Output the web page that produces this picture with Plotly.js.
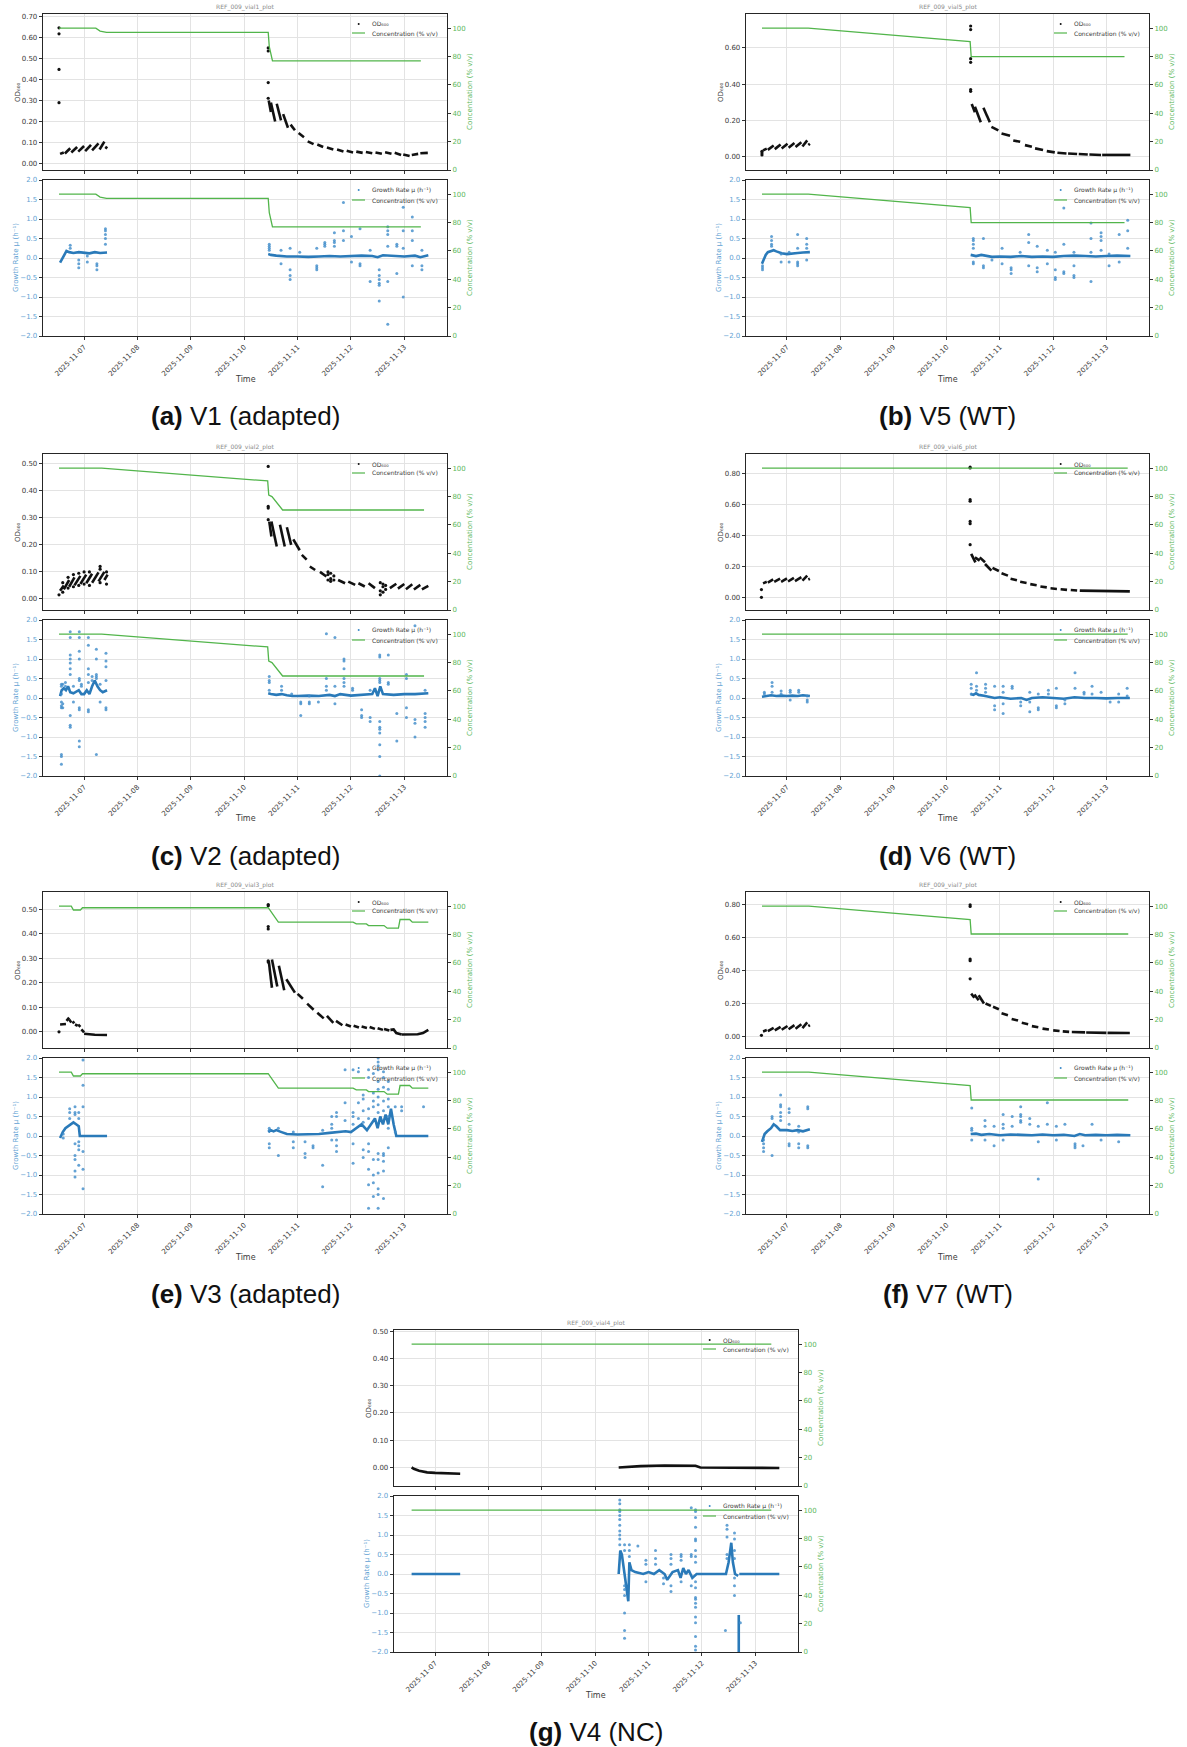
<!DOCTYPE html>
<html><head><meta charset="utf-8">
<script src="https://cdn.plot.ly/plotly-3.0.1.min.js"></script>
<style>html,body{margin:0;padding:0;background:#fff;}#chart{width:1187px;height:1747px;}</style>
</head><body><div id="chart"></div>
<script>
// ---------- shared axis labels ----------
const dayTicks = [7, 8, 9, 10, 11, 12, 13];
const dayLabels = ['2025-11-07','2025-11-08','2025-11-09','2025-11-10','2025-11-11','2025-11-12','2025-11-13'];
const concTicks = [0, 20, 40, 60, 80, 100];
const muTicks = [-2, -1.5, -1, -0.5, 0, 0.5, 1, 1.5, 2];

// ---------- V1 (adapted) ----------
const v1_odDash = [[6.55,.045,6.62,.052],[6.64,.047,6.74,.072],[6.76,.052,6.87,.078],[6.89,.056,7.00,.083],[7.02,.058,7.13,.088],[7.15,.062,7.27,.095],[7.29,.066,7.38,.104],[7.40,.07,7.43,.08],
 [10.46,.30,10.50,.245],[10.50,.29,10.58,.20],[10.61,.285,10.69,.205],[10.73,.235,10.82,.17],[10.87,.185,10.95,.158],[11.02,.145,11.12,.125],[11.19,.105,11.30,.092],[11.37,.09,11.48,.078],[11.55,.075,11.67,.066],[11.74,.066,11.86,.057],[11.92,.06,12.04,.052],[12.10,.056,12.22,.05],[12.28,.054,12.40,.048],[12.46,.052,12.58,.046],[12.64,.053,12.76,.046],[12.82,.05,12.94,.04],[12.98,.042,13.10,.035],[13.14,.04,13.26,.045],[13.30,.048,13.44,.05]];
const v1_odPts = [[6.53,[.648,.619,.449,.29]],[10.45,[.552,.537,.386,.311]]];
const v1_conc = [6.53,100, 7.22,100, 7.30,98, 7.42,97, 10.45,97, 10.47,87, 10.53,77, 13.31,77];
const v1_muLine = [[6.55,-.12,6.58,-.05,6.61,.05,6.64,.12,6.67,.18,6.72,.15,6.8,.13,6.9,.15,7.0,.14,7.1,.12,7.2,.15,7.3,.13,7.43,.14],
 [10.45,.1,10.5,.08,10.6,.06,10.7,.05,10.8,.04,11.0,.04,11.2,.03,11.4,.04,11.6,.05,11.8,.04,12.0,.05,12.2,.06,12.4,.05,12.5,.02,12.6,.07,12.8,.05,13.0,.04,13.2,.06,13.3,.02,13.45,.07]];
const v1_muPts = [[6.74,[.33,.25]],[6.9,[-.25,-.15,-.05]],[7.06,[-.1,.05]],[7.24,[-.3,-.2,-.15]],[7.4,[.75,.7,.6,.5,.35]],[10.47,[.35,.3,.25,.2]],[10.69,[.2,-.15]],[10.86,[.25,-.3,-.45,-.55]],[11.04,[.15]],[11.36,[.25,-.2,-.25,-.3]],[11.51,[.4,.3,.35]],[11.69,[.65,.45,.4,.3]],[11.86,[1.42,.7,.45]],[12.01,[.55,-.1]],[12.17,[.75,-.2,-.15]],[12.36,[-.6,.2]],[12.53,[-.3,-.45,-.55,-.65,-.7,-1.1]],[12.69,[.8,.7,.6,-.6,-1.7,.3]],[12.86,[-.4,.35,.3]],[12.98,[1.3,.7,-1.0,.25]],[13.15,[1.05,.7,.45,-.2]],[13.33,[.2,-.2,-.3]]];

// ---------- V5 (WT) ----------
const v5_odDash = [[6.55,.035,6.62,.045],[6.64,.038,6.75,.062],[6.77,.042,6.88,.068],[6.90,.046,7.01,.072],[7.03,.05,7.14,.076],[7.16,.053,7.27,.08],[7.29,.056,7.38,.09],[7.40,.065,7.43,.072],
 [10.47,.29,10.53,.245],[10.53,.275,10.64,.19],[10.69,.27,10.81,.19],[10.84,.165,10.97,.145],[11.03,.128,11.19,.115],[11.25,.09,11.38,.082],[11.47,.064,11.6,.055],[11.66,.046,11.81,.037],[11.88,.031,12.03,.024],[12.08,.022,12.25,.018],[12.28,.018,12.45,.015],[12.48,.015,12.65,.012],[12.68,.012,12.9,.01],[12.92,.01,13.45,.01]];
const v5_odPts = [[6.53,[.01,.02,.03]],[10.45,[.72,.70,.54,.52,.37,.36]]];
const v5_conc = [6.53,100, 7.40,100, 10.44,90.5, 10.46,80, 13.34,80];
const v5_muLine = [[6.53,-.15,6.56,-.05,6.6,.08,6.64,.15,6.7,.18,6.75,.2,6.8,.17,6.9,.12,7.0,.1,7.1,.12,7.2,.13,7.3,.14,7.43,.15],
 [10.45,.08,10.55,.05,10.65,.08,10.75,.05,10.85,.03,11.0,.04,11.2,.03,11.4,.05,11.6,.03,11.8,.04,12.0,.03,12.2,.05,12.4,.06,12.6,.05,12.8,.04,13.0,.05,13.2,.06,13.45,.05]];
const v5_muPts = [[6.54,[-.3,-.25,-.2]],[6.71,[.55,.45,.35,.3]],[6.89,[-.1,.1]],[7.04,[-.1,.15]],[7.2,[.6,.25,-.2,-.15,-.1]],[7.37,[.5,.35,.25,-.05]],[10.5,[.5,.45,.35,.25,-.15,-.1]],[10.69,[.5,-.25,-.2]],[10.85,[-.05]],[11.04,[.25,-.15]],[11.21,[-.4,-.3,-.25]],[11.38,[.15]],[11.54,[.6,.4,-.2]],[11.7,[.3,-.25,-.35]],[11.89,[.2,-.15]],[12.04,[-.5,-.55,-.3,.15]],[12.2,[1.28,.35,-.35,-.4]],[12.39,[-.45,-.5,-.2,.15]],[12.71,[.9,.5,-.6,.15]],[12.9,[.65,.55,.45,.2]],[13.05,[-.2,.1]],[13.24,[.6,-.1]],[13.4,[.97,.7,.25]]];

// ---------- V2 (adapted) ----------
const v2_odDash = [[6.55,.03,6.62,.05],[6.62,.035,6.72,.07],[6.72,.045,6.82,.08],[6.82,.05,6.93,.085],[6.93,.055,7.04,.09],[7.04,.058,7.15,.093],[7.15,.06,7.27,.098],[7.27,.065,7.38,.1],[7.38,.07,7.44,.09],
 [10.47,.286,10.51,.231],[10.51,.286,10.61,.194],[10.67,.274,10.76,.194],[10.80,.265,10.88,.2],[10.92,.22,11.04,.18],[11.08,.163,11.17,.145],[11.23,.12,11.33,.107],[11.42,.1,11.54,.083],[11.76,.07,11.89,.058],[11.95,.064,12.08,.052],[12.14,.058,12.26,.046],[12.33,.058,12.45,.04],[12.73,.04,12.85,.056],[12.88,.038,13.0,.055],[13.03,.036,13.15,.054],[13.18,.035,13.3,.052],[13.33,.035,13.45,.048]];
const v2_odPts = [[6.53,[.015]],[6.6,[.06,.025]],[6.7,[.08,.04]],[6.8,[.09,.045]],[6.9,[.095,.05]],[7.0,[.1,.055]],[7.1,[.1,.05]],[7.3,[.12,.11,.06]],[7.42,[.1,.055]],[10.45,[.49,.342,.336,.293]],[11.57,[.1,.09,.07]],[11.62,[.095,.075,.065]],[11.68,[.085,.07]],[12.55,[.06,.03,.015]],[12.6,[.055,.045,.025]],[12.65,[.05,.035]]];
const v2_conc = [6.53,100, 7.33,100, 10.44,91, 10.46,81, 10.52,80, 10.72,70.5, 13.37,70.5];
const v2_muLine = [[6.55,.05,6.58,.2,6.62,.25,6.66,.2,6.7,.3,6.74,.15,6.8,.12,6.85,.15,6.9,.2,6.95,.1,7.0,.1,7.05,.2,7.1,.1,7.15,.3,7.2,.45,7.25,.3,7.3,.2,7.35,.15,7.43,.2],
 [10.45,.12,10.5,.1,10.6,.08,10.7,.1,10.8,.07,10.9,.05,11.0,.05,11.2,.06,11.4,.05,11.6,.08,11.7,.05,11.8,.1,12.0,.06,12.2,.08,12.4,.1,12.45,.25,12.5,.05,12.55,.3,12.6,.1,12.8,.08,13.0,.1,13.2,.1,13.45,.12]];
const v2_muPts = [[6.575,[.35,.3,.1,-.1,-.2,-.25,-1.45,-1.5,-1.7]],[6.6,[.35,-.25,-.15]],[6.65,[.3,.4]],[6.74,[1.7,1.55,1.1,1.0,.9,.75,.6,-.45,-.7,-.75]],[6.8,[.3,-.1]],[6.91,[1.7,1.55,1.2,1.0,.5,.45,-.25,-.3,-1.1,-1.25]],[6.95,[.3,.35]],[7.08,[1.55,1.35,.75,.6,.4,-.3,-.35]],[7.15,[.55,.45]],[7.23,[1.25,1.0,.6,.55,.5,-1.45]],[7.3,[.35,-.1]],[7.41,[1.15,.95,.8,.45,-.25,-.3]],[10.47,[.55,.45,.4,.2]],[10.7,[.3,.2]],[10.89,[.1]],[11.06,[-.45,-.15,-.1]],[11.22,[.05,-.1,-.15]],[11.39,[-.1]],[11.54,[1.65,.5,.3,.2]],[11.7,[1.55,.3,-.15]],[11.87,[1.0,.95,.75,.5,.4,.3]],[12.03,[.25,.2]],[12.2,[-.3,-.45,-.5]],[12.36,[.2,-.5,-.6]],[12.54,[1.1,1.05,.5,.45,.4,-.6,-.75,-.8,-.9,-1.2,-1.5,-2.0]],[12.7,[1.1,.4,.35]],[12.86,[-.4,-1.1]],[13.04,[.6,.5,-.25,-.5]],[13.2,[-.55,-1.0,-.65,1.85]],[13.39,[-.4,-.5,-.6,-.75,.2]]];

// ---------- V6 (WT) ----------
const v6_odDash = [[6.55,.09,6.62,.1],[6.64,.095,6.74,.115],[6.76,.1,6.87,.12],[6.89,.1,7.0,.122],[7.02,.102,7.13,.125],[7.15,.105,7.27,.13],[7.29,.108,7.38,.14],[7.40,.115,7.43,.12],
 [10.46,.28,10.54,.226],[10.53,.258,10.62,.237],[10.62,.258,10.72,.226],[10.72,.215,10.84,.172],[10.86,.19,10.98,.17],[11.03,.155,11.15,.14],[11.2,.12,11.32,.11],[11.38,.1,11.5,.092],[11.57,.085,11.69,.078],[11.76,.07,11.88,.064],[11.95,.058,12.07,.054],[12.14,.052,12.26,.048],[12.33,.047,12.45,.044],[12.5,.043,12.9,.04,13.44,.038]];
const v6_odPts = [[6.52,[0,.05]],[10.44,[.84,.835,.63,.62,.49,.475,.34]]];
const v6_conc = [6.53,100, 13.4,100];
const v6_muLine = [[6.53,.03,6.6,.05,6.7,.07,6.8,.05,6.9,.06,7.0,.05,7.1,.06,7.2,.05,7.3,.07,7.43,.05],
 [10.45,.1,10.5,.08,10.55,.12,10.6,.08,10.7,.06,10.8,.03,10.9,0,11.0,.02,11.2,-.02,11.4,0,11.5,-.05,11.6,0,11.8,.02,12.0,0,12.2,-.02,12.4,.02,12.6,0,12.8,0,13.0,-.01,13.2,0,13.44,0]];
const v6_muPts = [[6.575,[.15,.1]],[6.72,[.4,.3,.15]],[6.89,[.18,.1]],[7.06,[.2,.15,-.05]],[7.22,[.2,.15]],[7.38,[-.1,-.05,.05]],[10.46,[.35,.25,.1]],[10.56,[.65,.3,.2]],[10.73,[.35,.25,.15]],[10.9,[-.2,-.3,.3]],[11.06,[-.4,.3,.15,-.15]],[11.23,[.3,.25]],[11.39,[-.2,-.1]],[11.56,[.15,-.35,-.1]],[11.72,[-.3,-.25,.1]],[11.91,[.2,.1]],[12.06,[.25,-.2,-.25]],[12.22,[-.05,-.15]],[12.41,[.65,.25]],[12.58,[.15,.1]],[12.73,[.3,.1]],[12.9,[.15]],[13.07,[-.1]],[13.23,[.1,-.1]],[13.39,[.25,.05]]];

// ---------- V3 (adapted) ----------
const v3_odDash = [[6.55,.03,6.66,.032],[6.67,.045,6.72,.058],[6.72,.05,6.76,.038],[6.78,.035,6.82,.042],[6.83,.03,6.88,.025],[6.89,.03,6.93,.02],[6.95,.01,7.0,-.002],[7.0,-.008,7.2,-.012,7.43,-.013],
 [10.46,.29,10.52,.18],[10.52,.295,10.62,.185],[10.65,.27,10.75,.17],[10.79,.215,10.95,.16],[11.0,.155,11.1,.135],[11.18,.115,11.3,.09],[11.37,.078,11.49,.055],[11.55,.065,11.67,.037],[11.72,.045,11.84,.027],[11.9,.03,12.0,.022],[12.05,.025,12.15,.018],[12.2,.022,12.3,.016],[12.35,.02,12.45,.012],[12.5,.015,12.6,.008],[12.62,.012,12.72,.005],[12.74,.008,12.8,.01,12.85,-.005,12.95,-.011],[12.95,-.011,13.25,-.01,13.35,-.005,13.45,.008]];
const v3_odPts = [[6.53,[0]],[10.45,[.52,.515,.43,.42,.29,.285]]];
const v3_conc = [6.53,100, 6.76,100, 6.8,97.3, 6.93,97.3, 6.97,98.9, 10.45,98.9, 10.64,88.7, 12.04,88.7, 12.1,87.5, 12.29,87.5, 12.33,86.3, 12.62,86.3, 12.68,84.5, 12.89,84.5, 12.92,90.6, 13.1,90.6, 13.15,88.7, 13.45,88.7];
const v3_muLine = [[6.55,-.05,6.6,.1,6.65,.2,6.7,.25,6.75,.3,6.8,.35,6.85,.3,6.9,.25,6.92,0,7.43,0],
 [10.45,.1,10.5,.15,10.55,.12,10.6,.15,10.7,.1,10.8,.05,11.0,.04,11.2,.05,11.4,.05,11.6,.08,11.8,.1,11.9,.12,12.0,.1,12.1,.2,12.2,.3,12.3,.15,12.4,.35,12.45,.45,12.5,.2,12.55,.5,12.6,.3,12.65,.55,12.7,.3,12.75,.7,12.8,.3,12.85,0,13.45,0]];
const v3_muPts = [[6.61,[.05,-.05]],[6.73,[.7,.6,.45]],[6.83,[.75,.6,.55,-.2,-.5,-.6,-.9,-1.05]],[6.9,[.6,.45,-.15,-.25,-.35,-.75]],[6.98,[1.95,1.3,.75,-.4,-.85,-1.35]],[10.47,[.2,.15,-.2,-.3]],[10.64,[-.5,.2]],[10.92,[-.15,-.3,.1]],[11.14,[-.45,-.55,-.15]],[11.29,[-.25,-.3]],[11.47,[-.75,-1.3,.15]],[11.64,[.5,.3,.2,-.1]],[11.73,[-.1,-.25,-.4,.6,.5]],[11.89,[1.7,.85,.4]],[12.04,[-.7,-.2,.3,.5,.6,1.7]],[12.14,[1.65,.85,.45]],[12.23,[1.05,.95,.65,.35,-.35,-.55]],[12.33,[-1.25,-1.85,1.7,1.5,.7,.45,-.2,-.4,-.85]],[12.42,[1.6,1.1,.9,.75,-.6,-1.0,-1.2,-1.55]],[12.51,[2.0,1.9,1.8,1.7,1.4,1.2,1.0,.8,.6,-.45,-.6,-.95,-1.35,-1.5,-1.85]],[12.61,[1.65,1.5,1.25,.9,.65,-.45,-.5,-.65,-.9,-1.6]],[12.7,[1.4,1.2,.95,.75,.5,.2,-.3]],[12.83,[.75,.1]],[12.95,[.75,.65]],[13.36,[.75]]];

// ---------- V7 (WT) ----------
const v7_odDash = [[6.55,.03,6.62,.038],[6.64,.032,6.75,.052],[6.77,.036,6.88,.058],[6.9,.04,7.01,.063],[7.03,.043,7.14,.068],[7.16,.046,7.27,.074],[7.29,.05,7.38,.085],[7.4,.062,7.43,.068],
 [10.46,.26,10.52,.235],[10.52,.255,10.6,.22],[10.6,.25,10.7,.2],[10.73,.2,10.83,.185],[10.87,.18,10.98,.165],[11.03,.14,11.15,.128],[11.22,.106,11.34,.096],[11.41,.082,11.53,.074],[11.6,.062,11.72,.055],[11.8,.047,11.92,.041],[12.0,.036,12.12,.032],[12.18,.03,12.3,.027],[12.35,.026,12.6,.024],[12.62,.023,13.0,.021],[13.02,.021,13.44,.02]];
const v7_odPts = [[6.52,[.006]],[10.44,[.8,.79,.47,.46,.35]]];
const v7_conc = [6.53,100, 7.41,100, 10.44,90.6, 10.46,80.4, 13.41,80.4];
const v7_muLine = [[6.53,-.15,6.58,.05,6.63,.12,6.7,.2,6.75,.3,6.8,.25,6.87,.15,7.0,.15,7.1,.13,7.2,.15,7.3,.12,7.43,.17],
 [10.45,.05,10.55,.06,10.65,.03,10.8,.05,11.0,.02,11.2,.04,11.4,.03,11.6,.02,11.8,.04,12.0,.02,12.2,.03,12.4,0,12.5,.05,12.6,.02,12.8,.03,13.0,.02,13.2,.03,13.45,.02]];
const v7_muPts = [[6.56,[-.4,-.3,-.2,-.1]],[6.72,[-.5,.5,.45]],[6.88,[1.05,.8,.75,.6,.5,.4]],[7.04,[.7,.6,.3,-.25,-.2]],[7.22,[.25,-.3,-.2,.1]],[7.39,[.75,.7,-.3,-.25]],[10.47,[.72,.2,.15,-.1]],[10.72,[.4,.25,-.1]],[10.89,[-.25,.25]],[11.06,[.55,.3,.2,-.1]],[11.23,[.5,.25]],[11.39,[.75,.55,.5,.4,.35]],[11.56,[.45,.3]],[11.72,[.25,-.15,-1.1]],[11.89,[.85,.3]],[12.06,[.25,-.1]],[12.22,[.3]],[12.41,[-.2,-.25,-.3]],[12.56,[-.25]],[12.73,[.3]],[12.9,[-.1]],[13.23,[-.15]]];

// ---------- V4 (NC) ----------
const v4_odDash = [[6.56,0,6.6,-.005,6.7,-.012,6.85,-.018,7.0,-.02,7.2,-.022,7.47,-.023],[10.44,0,10.55,.002,10.85,.005,11.3,.007,11.8,.008,11.88,.006,11.97,0,12.4,-.001,12.5,.001,12.75,0,13.45,-.002]];
const v4_odPts = [];
const v4_conc = [6.56,100, 13.3,100];
const v4_muLine = [[6.56,0,7.47,0],
 [10.44,0,10.45,.3,10.47,.6,10.5,.5,10.53,.2,10.56,-.1,10.6,-.6,10.62,-.7,10.64,.3,10.68,.1,10.75,.05,10.9,0,11.0,.05,11.1,0,11.2,.1,11.3,0,11.35,-.15,11.45,.05,11.55,.1,11.6,-.1,11.65,.15,11.7,0,11.75,.1,11.82,-.1,11.9,0,12.45,0,12.5,.3,12.55,.8,12.58,.3,12.62,0,12.68,-.05],
 [12.69,-1.05,12.69,-2.1],[12.7,0,13.45,0]];
const v4_muPts = [[10.46,[1.9,1.8,1.65,1.6,1.5,1.4,1.25,1.1,1.0,.9,.75]],[10.55,[.75,.6,-.3,-.4,-.55,-1.0,-1.45,-1.65]],[10.64,[.75,.6,.45]],[10.8,[.72]],[10.95,[.35,.25,-.2]],[11.13,[.6,.4,.25]],[11.28,[-.1,-.25]],[11.42,[.5,.4,.25,-.3,-.45]],[11.61,[.5,.45,.35,-.2]],[11.8,[1.7,.5,.45,-.3]],[11.88,[1.65,1.6,1.45,1.2,.9,.85,.6,.45,.3,-.2,-.35,-.6,-.65,-.75,-.85,-1.1,-1.25,-1.6,-1.85,-1.95]],[12.44,[-1.45]],[12.47,[1.25,1.15,.95,.5,.4]],[12.61,[1.05,.9,.6,.4,-.1,-.3,-.55]],[12.72,[-1.25]]];

// ---------- figure config (layout only) ----------
const W = 1187, H = 1747;
const COLS = {L:[43,447], R:[746,1149], C:[394,798]};
const ROWS = [14, 454, 892, 1330];
const subs = [
 {tag:'a', cap:'V1 (adapted)', vial:'REF_009_vial1_plot', col:'L', row:0, odR:[-0.032,0.714], odT:[0,.1,.2,.3,.4,.5,.6,.7], od:v1_odDash, odP:v1_odPts, conc:v1_conc, mu:v1_muLine, muP:v1_muPts},
 {tag:'b', cap:'V5 (WT)', vial:'REF_009_vial5_plot', col:'R', row:0, odR:[-0.073,0.786], odT:[0,.2,.4,.6], od:v5_odDash, odP:v5_odPts, conc:v5_conc, mu:v5_muLine, muP:v5_muPts},
 {tag:'c', cap:'V2 (adapted)', vial:'REF_009_vial2_plot', col:'L', row:1, odR:[-0.041,0.536], odT:[0,.1,.2,.3,.4,.5], od:v2_odDash, odP:v2_odPts, conc:v2_conc, mu:v2_muLine, muP:v2_muPts},
 {tag:'d', cap:'V6 (WT)', vial:'REF_009_vial6_plot', col:'R', row:1, odR:[-0.082,0.925], odT:[0,.2,.4,.6,.8], od:v6_odDash, odP:v6_odPts, conc:v6_conc, mu:v6_muLine, muP:v6_muPts},
 {tag:'e', cap:'V3 (adapted)', vial:'REF_009_vial3_plot', col:'L', row:2, odR:[-0.066,0.571], odT:[0,.1,.2,.3,.4,.5], od:v3_odDash, odP:v3_odPts, conc:v3_conc, mu:v3_muLine, muP:v3_muPts},
 {tag:'f', cap:'V7 (WT)', vial:'REF_009_vial7_plot', col:'R', row:2, odR:[-0.071,0.878], odT:[0,.2,.4,.6,.8], od:v7_odDash, odP:v7_odPts, conc:v7_conc, mu:v7_muLine, muP:v7_muPts},
 {tag:'g', cap:'V4 (NC)', vial:'REF_009_vial4_plot', col:'C', row:3, odR:[-0.068,0.504], odT:[0,.1,.2,.3,.4,.5], od:v4_odDash, odP:v4_odPts, conc:v4_conc, mu:v4_muLine, muP:v4_muPts}
];
const OD_LABEL = 'OD₆₀₀';
const MU_LABEL = 'Growth Rate μ (h⁻¹)';
const CONC_LABEL = 'Concentration (% v/v)';

// ---------- helpers ----------
function segLines(segs){const x=[],y=[];segs.forEach(s=>{for(let k=0;k<s.length;k+=2){x.push(s[k]);y.push(s[k+1]);}x.push(null);y.push(null);});return {x,y};}
function groupPts(g){const x=[],y=[];g.forEach(([t,vs])=>vs.forEach(v=>{x.push(t);y.push(v);}));return {x,y};}
function pairs(a){const x=[],y=[];for(let k=0;k<a.length;k+=2){x.push(a[k]);y.push(a[k+1]);}return {x,y};}
const px = v => v / W, py = v => 1 - v / H;
const ax = (p, n) => p + (n === 1 ? '' : n);

const FONT = 'DejaVu Sans, Verdana, sans-serif';
const GREEN = '#52b54b', BLUE = '#2a7ab9', BLUE_TXT = '#5f9fd3', GREEN_TXT = '#5cb85c', INK = '#3a3a3a';
const XR = [6.23, 13.8];

const traces = [], layout = {
 width: W, height: H, margin:{l:0,r:0,t:0,b:0}, showlegend:false, autosize:false,
 paper_bgcolor:'#fff', plot_bgcolor:'rgba(0,0,0,0)', annotations:[], shapes:[], font:{family:FONT, color:INK, size:7}
};

function addPanel(p, top, bot, L, R, s, isTop){
 const xn = p + 1, yl = 2*p + 1, yr = 2*p + 2;
 const xa = ax('x', xn), yla = ax('y', yl), yra = ax('y', yr);
 layout[ax('xaxis', xn)] = {
  domain:[px(L), px(R)], range:XR, anchor:yla, tickvals:dayTicks, ticktext:dayLabels,
  showticklabels:!isTop, tickangle:-45, tickfont:{family:FONT, size:7, color:INK},
  ticks:'outside', ticklen:3, tickcolor:'#333', showgrid:true, gridcolor:'#e3e3e3', gridwidth:1,
  showline:true, mirror:true, linecolor:'#262626', linewidth:1.3, zeroline:false, automargin:false
 };
 layout[ax('yaxis', yl)] = {
  domain:[py(bot), py(top)], anchor:xa, range: isTop ? s.odR : [-2, 2],
  tickvals: isTop ? s.odT : muTicks, tickformat: isTop ? '.2f' : '.1f',
  tickfont:{family:FONT, size:7, color: isTop ? INK : BLUE_TXT},
  ticks:'outside', ticklen:3, tickcolor:'#333', showgrid:true, gridcolor:'#e3e3e3', gridwidth:1,
  showline:true, mirror:true, linecolor:'#262626', linewidth:1.3, zeroline:false, automargin:false
 };
 layout[ax('yaxis', yr)] = {
  overlaying:yla, side:'right', anchor:xa, range:[0,110], tickvals:concTicks,
  tickfont:{family:FONT, size:7, color:GREEN_TXT}, ticks:'outside', ticklen:3, tickcolor:'#333',
  showgrid:false, zeroline:false, showline:false, automargin:false
 };
 if (isTop){
  const d = segLines(s.od), q = groupPts(s.odP);
  traces.push({type:'scatter', mode:'lines', x:d.x, y:d.y, xaxis:xa, yaxis:yla, line:{color:'#111', width:2.6}, connectgaps:false, hoverinfo:'skip'});
  traces.push({type:'scatter', mode:'markers', x:q.x, y:q.y, xaxis:xa, yaxis:yla, marker:{color:'#111', size:3.2}, hoverinfo:'skip'});
 } else {
  const d = segLines(s.mu), q = groupPts(s.muP);
  traces.push({type:'scatter', mode:'lines', x:d.x, y:d.y, xaxis:xa, yaxis:yla, line:{color:BLUE, width:2.6}, connectgaps:false, hoverinfo:'skip'});
  traces.push({type:'scatter', mode:'markers', x:q.x, y:q.y, xaxis:xa, yaxis:yla, marker:{color:'#3d8bc9', size:3, opacity:0.8}, hoverinfo:'skip'});
 }
 const c = pairs(s.conc);
 traces.push({type:'scatter', mode:'lines', x:c.x, y:c.y, xaxis:xa, yaxis:yra, line:{color:GREEN, width:1.3}, hoverinfo:'skip'});

 // axis titles
 const midY = (top + bot) / 2;
 layout.annotations.push({xref:'paper', yref:'paper', x:px(L - (isTop ? 25 : 27)), y:py(midY), text: isTop ? OD_LABEL : MU_LABEL,
  textangle:-90, showarrow:false, xanchor:'center', yanchor:'middle', font:{family:FONT, size:7, color: isTop ? INK : BLUE_TXT}});
 layout.annotations.push({xref:'paper', yref:'paper', x:px(R + 23), y:py(midY), text:CONC_LABEL,
  textangle:-90, showarrow:false, xanchor:'center', yanchor:'middle', font:{family:FONT, size:7, color:GREEN_TXT}});

 // legend
 const r1 = top + 10, r2 = top + (isTop ? 19 : 20);
 layout.annotations.push({xref:'paper', yref:'paper', x:px(R - 77), y:py(r1), text: isTop ? OD_LABEL : MU_LABEL,
  showarrow:false, xanchor:'left', yanchor:'middle', font:{family:FONT, size:6, color:INK}});
 layout.annotations.push({xref:'paper', yref:'paper', x:px(R - 77), y:py(r2), text:CONC_LABEL,
  showarrow:false, xanchor:'left', yanchor:'middle', font:{family:FONT, size:6, color:INK}});
 const dc = isTop ? '#111' : '#3d8bc9';
 layout.shapes.push({type:'circle', xref:'paper', yref:'paper', x0:px(R-89.3), x1:px(R-87.3), y0:py(r1+1), y1:py(r1-1), fillcolor:dc, line:{width:0}});
 layout.shapes.push({type:'line', xref:'paper', yref:'paper', x0:px(R-95), x1:px(R-82), y0:py(r2), y1:py(r2), line:{color:GREEN, width:1.2}});
}

subs.forEach((s, i) => {
 const [L, R] = COLS[s.col], T = ROWS[s.row];
 addPanel(2*i, T, T + 156, L, R, s, true);
 addPanel(2*i + 1, T + 166, T + 322, L, R, s, false);
 const cx = (L + R) / 2;
 layout.annotations.push({xref:'paper', yref:'paper', x:px(cx), y:py(T - 1), text:s.vial, showarrow:false, xanchor:'center', yanchor:'bottom', font:{family:FONT, size:6, color:'#8a8a8a'}});
 layout.annotations.push({xref:'paper', yref:'paper', x:px(cx), y:py(T + 365), text:'Time', showarrow:false, xanchor:'center', yanchor:'middle', font:{family:FONT, size:8, color:INK}});
 layout.annotations.push({xref:'paper', yref:'paper', x:px(cx), y:py(T + 402), text:'<b>(' + s.tag + ')</b> ' + s.cap, showarrow:false, xanchor:'center', yanchor:'middle', font:{family:'Liberation Sans, Arial, Helvetica, sans-serif', size:26, color:'#111'}});
});

Plotly.newPlot('chart', traces, layout, {staticPlot:true, displayModeBar:false});
</script></body></html>
